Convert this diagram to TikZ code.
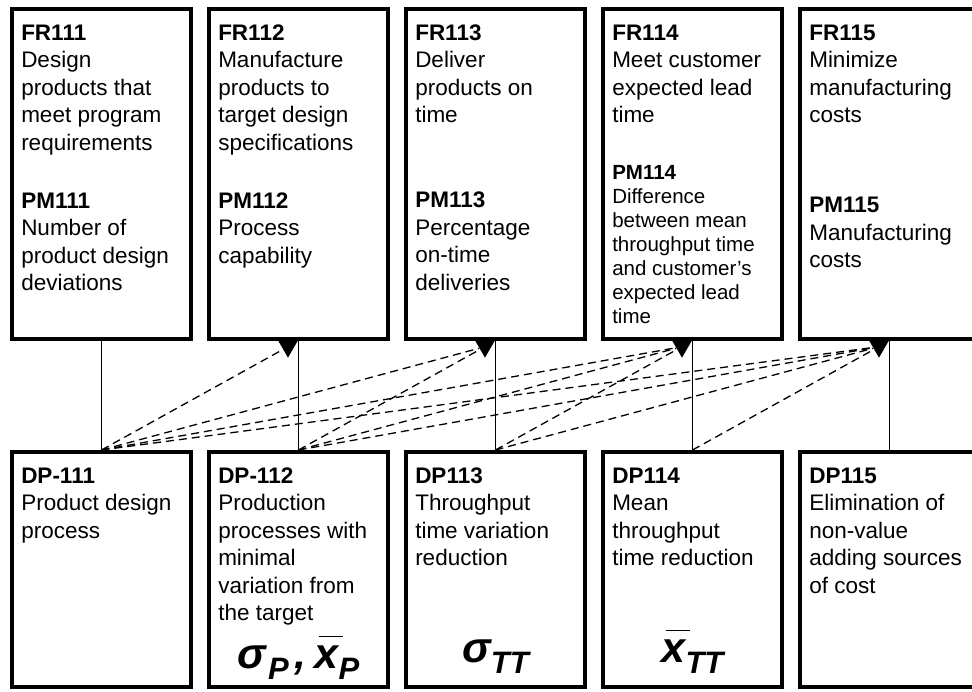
\documentclass[tikz,border=0pt]{standalone}
\usepackage{fontspec}
\setmainfont{Liberation Sans}
\usetikzlibrary{positioning, shapes.geometric}

\newcommand{\frtext}[1]{\parbox[t][298.5pt][t]{160.5pt}{#1}}
\newcommand{\dptext}[3]{\parbox[t][203.5pt][s]{160.5pt}{#1\par\vfill
    {\centering\fontsize{43}{43}\selectfont\bfseries\itshape #2\par}\vspace{#3}}}
\newcommand{\dpsub}[1]{\raisebox{-11pt}{\fontsize{31}{31}\selectfont #1}}
\newcommand{\xbar}{\makebox[0pt][l]{\hspace{4pt}\rule[32pt]{24pt}{0.8pt}}x}

\begin{document}
\begin{tikzpicture}[x=1pt, y=1pt, node distance=14pt,
    frbox/.style={draw, line width=3.8pt, minimum width=179.2pt,
                  minimum height=330.2pt, inner sep=0pt,
                  font=\fontsize{22.5}{27.5}\selectfont},
    dpbox/.style={frbox, minimum height=235.2pt},
    arrowtri/.style={regular polygon, regular polygon sides=3,
                     shape border rotate=180, fill, inner sep=0pt,
                     minimum size=22pt},
    link/.style={line width=1.3pt},
    dep/.style={line width=1.3pt, dash pattern=on 8pt off 5pt}]
\clip (0,0) rectangle (972,692);
\node[frbox, anchor=north west] (fr111) at (10,685)
    {\frtext{\textbf{FR111}\\Design\\products that\\meet program\\requirements\\[30.5pt]%
     \textbf{PM111}\\Number of\\product design\\deviations}};
\node[frbox, right=of fr111] (fr112)
    {\frtext{\textbf{FR112}\\Manufacture\\products to\\target design\\specifications\\[30.5pt]%
     \textbf{PM112}\\Process\\capability}};
\node[frbox, right=of fr112] (fr113)
    {\frtext{\textbf{FR113}\\Deliver\\products on\\time\\[57.5pt]%
     \textbf{PM113}\\Percentage\\on-time\\deliveries}};
\node[frbox, right=of fr113] (fr114)
    {\frtext{\textbf{FR114}\\Meet customer\\expected lead\\time\par\vspace{33pt}%
     {\fontsize{20.5}{24}\selectfont\textbf{PM114}\\Difference\\between mean\\throughput time\\and customer’s\\expected lead\\time\par}}};
\node[frbox, right=of fr114] (fr115)
    {\frtext{\textbf{FR115}\\Minimize\\manufacturing\\costs\\[62.5pt]%
     \textbf{PM115}\\Manufacturing\\costs}};

\node[dpbox, below=109pt of fr111] (dp111)
    {\dptext{\textbf{DP-111}\\Product design\\process}{}{0pt}};
\node[dpbox, right=of dp111] (dp112)
    {\dptext{\textbf{DP-112}\\Production\\processes with\\minimal\\variation from\\the target}%
     {σ\hspace{2pt}\dpsub{P}\kern6pt,\kern8pt\xbar\dpsub{P}}{-8.75pt}};
\node[dpbox, right=of dp112] (dp113)
    {\dptext{\textbf{DP113}\\Throughput\\time variation\\reduction}{σ\dpsub{TT}}{-2.75pt}};
\node[dpbox, right=of dp113] (dp114)
    {\dptext{\textbf{DP114}\\Mean\\throughput\\time reduction}{\xbar\dpsub{TT}}{-2.75pt}};
\node[dpbox, right=of dp114] (dp115)
    {\dptext{\textbf{DP115}\\Elimination of\\non-value\\adding sources\\of cost}{}{0pt}};

\foreach \i in {111,...,115}
    \draw[link] (fr\i) -- (dp\i);
\foreach \i in {112,...,115}
    \node[arrowtri, below=0pt of fr\i.south, xshift=-10.5pt] (tri\i) {};
\foreach \j/\i in {111/112, 111/113, 111/114, 111/115, 112/113,
                   112/114, 112/115, 113/114, 113/115, 114/115}
    \draw[dep] (dp\j.north) -- (tri\i);
\end{tikzpicture}
\end{document}
